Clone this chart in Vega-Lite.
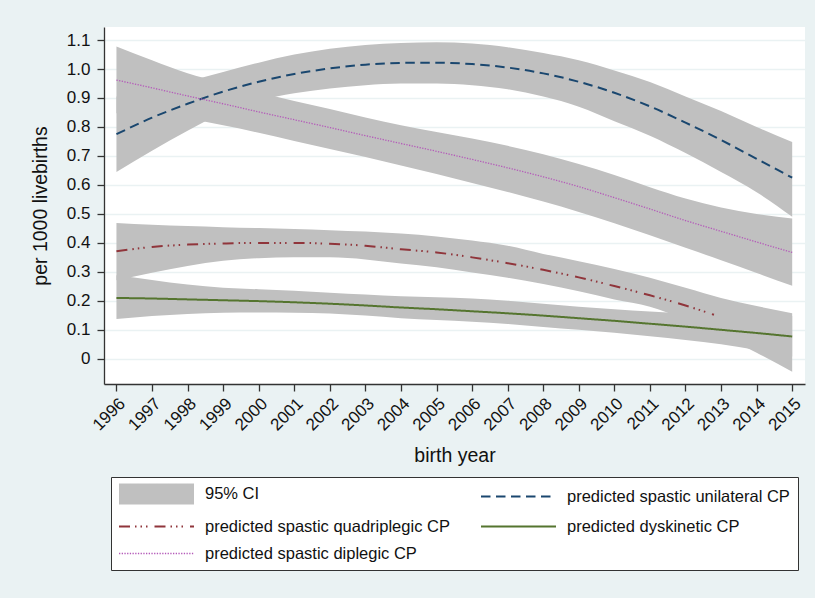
{
  "$schema": "https://vega.github.io/schema/vega-lite/v6.json",
  "width": 701,
  "height": 357,
  "autosize": {"type": "none"},
  "padding": {"left": 104, "top": 27, "right": 10, "bottom": 214},
  "background": "#eaf2f3",
  "data": {"values": [
    {"year": 1996, "series": "predicted spastic unilateral CP", "est": 0.775, "lo": 0.645, "hi": 0.905},
    {"year": 1997, "series": "predicted spastic unilateral CP", "est": 0.832, "lo": 0.718, "hi": 0.93},
    {"year": 1998, "series": "predicted spastic unilateral CP", "est": 0.88, "lo": 0.787, "hi": 0.957},
    {"year": 1999, "series": "predicted spastic unilateral CP", "est": 0.922, "lo": 0.848, "hi": 0.99},
    {"year": 2000, "series": "predicted spastic unilateral CP", "est": 0.956, "lo": 0.89, "hi": 1.022},
    {"year": 2001, "series": "predicted spastic unilateral CP", "est": 0.983, "lo": 0.916, "hi": 1.05},
    {"year": 2002, "series": "predicted spastic unilateral CP", "est": 1.002, "lo": 0.933, "hi": 1.07},
    {"year": 2003, "series": "predicted spastic unilateral CP", "est": 1.015, "lo": 0.944, "hi": 1.083},
    {"year": 2004, "series": "predicted spastic unilateral CP", "est": 1.021, "lo": 0.95, "hi": 1.09},
    {"year": 2005, "series": "predicted spastic unilateral CP", "est": 1.022, "lo": 0.95, "hi": 1.092},
    {"year": 2006, "series": "predicted spastic unilateral CP", "est": 1.017, "lo": 0.944, "hi": 1.088},
    {"year": 2007, "series": "predicted spastic unilateral CP", "est": 1.005, "lo": 0.93, "hi": 1.075},
    {"year": 2008, "series": "predicted spastic unilateral CP", "est": 0.985, "lo": 0.905, "hi": 1.055},
    {"year": 2009, "series": "predicted spastic unilateral CP", "est": 0.956, "lo": 0.87, "hi": 1.03},
    {"year": 2010, "series": "predicted spastic unilateral CP", "est": 0.918, "lo": 0.82, "hi": 0.995},
    {"year": 2011, "series": "predicted spastic unilateral CP", "est": 0.871, "lo": 0.77, "hi": 0.955},
    {"year": 2012, "series": "predicted spastic unilateral CP", "est": 0.815, "lo": 0.71, "hi": 0.905},
    {"year": 2013, "series": "predicted spastic unilateral CP", "est": 0.755, "lo": 0.645, "hi": 0.855},
    {"year": 2014, "series": "predicted spastic unilateral CP", "est": 0.69, "lo": 0.575, "hi": 0.8},
    {"year": 2015, "series": "predicted spastic unilateral CP", "est": 0.625, "lo": 0.49, "hi": 0.748},

    {"year": 1996, "series": "predicted spastic diplegic CP", "est": 0.962, "lo": 0.847, "hi": 1.078},
    {"year": 1997, "series": "predicted spastic diplegic CP", "est": 0.935, "lo": 0.842, "hi": 1.03},
    {"year": 1998, "series": "predicted spastic diplegic CP", "est": 0.907, "lo": 0.828, "hi": 0.985},
    {"year": 1999, "series": "predicted spastic diplegic CP", "est": 0.88, "lo": 0.806, "hi": 0.952},
    {"year": 2000, "series": "predicted spastic diplegic CP", "est": 0.852, "lo": 0.78, "hi": 0.92},
    {"year": 2001, "series": "predicted spastic diplegic CP", "est": 0.825, "lo": 0.752, "hi": 0.89},
    {"year": 2002, "series": "predicted spastic diplegic CP", "est": 0.798, "lo": 0.724, "hi": 0.862},
    {"year": 2003, "series": "predicted spastic diplegic CP", "est": 0.77, "lo": 0.696, "hi": 0.833},
    {"year": 2004, "series": "predicted spastic diplegic CP", "est": 0.743, "lo": 0.667, "hi": 0.806},
    {"year": 2005, "series": "predicted spastic diplegic CP", "est": 0.716, "lo": 0.638, "hi": 0.783},
    {"year": 2006, "series": "predicted spastic diplegic CP", "est": 0.688, "lo": 0.607, "hi": 0.76},
    {"year": 2007, "series": "predicted spastic diplegic CP", "est": 0.659, "lo": 0.576, "hi": 0.735},
    {"year": 2008, "series": "predicted spastic diplegic CP", "est": 0.628, "lo": 0.543, "hi": 0.706},
    {"year": 2009, "series": "predicted spastic diplegic CP", "est": 0.594, "lo": 0.507, "hi": 0.672},
    {"year": 2010, "series": "predicted spastic diplegic CP", "est": 0.556, "lo": 0.468, "hi": 0.634},
    {"year": 2011, "series": "predicted spastic diplegic CP", "est": 0.517, "lo": 0.426, "hi": 0.592},
    {"year": 2012, "series": "predicted spastic diplegic CP", "est": 0.477, "lo": 0.383, "hi": 0.553},
    {"year": 2013, "series": "predicted spastic diplegic CP", "est": 0.44, "lo": 0.34, "hi": 0.522},
    {"year": 2014, "series": "predicted spastic diplegic CP", "est": 0.403, "lo": 0.296, "hi": 0.5},
    {"year": 2015, "series": "predicted spastic diplegic CP", "est": 0.367, "lo": 0.252, "hi": 0.484},

    {"year": 1996, "series": "predicted spastic quadriplegic CP", "est": 0.371, "lo": 0.271, "hi": 0.469},
    {"year": 1997, "series": "predicted spastic quadriplegic CP", "est": 0.386, "lo": 0.297, "hi": 0.463},
    {"year": 1998, "series": "predicted spastic quadriplegic CP", "est": 0.394, "lo": 0.32, "hi": 0.458},
    {"year": 1999, "series": "predicted spastic quadriplegic CP", "est": 0.398, "lo": 0.338, "hi": 0.454},
    {"year": 2000, "series": "predicted spastic quadriplegic CP", "est": 0.4, "lo": 0.347, "hi": 0.451},
    {"year": 2001, "series": "predicted spastic quadriplegic CP", "est": 0.4, "lo": 0.35, "hi": 0.448},
    {"year": 2002, "series": "predicted spastic quadriplegic CP", "est": 0.397, "lo": 0.35, "hi": 0.444},
    {"year": 2003, "series": "predicted spastic quadriplegic CP", "est": 0.39, "lo": 0.343, "hi": 0.439},
    {"year": 2004, "series": "predicted spastic quadriplegic CP", "est": 0.378, "lo": 0.329, "hi": 0.432},
    {"year": 2005, "series": "predicted spastic quadriplegic CP", "est": 0.367, "lo": 0.316, "hi": 0.422},
    {"year": 2006, "series": "predicted spastic quadriplegic CP", "est": 0.35, "lo": 0.298, "hi": 0.408},
    {"year": 2007, "series": "predicted spastic quadriplegic CP", "est": 0.33, "lo": 0.28, "hi": 0.39},
    {"year": 2008, "series": "predicted spastic quadriplegic CP", "est": 0.307, "lo": 0.258, "hi": 0.362},
    {"year": 2009, "series": "predicted spastic quadriplegic CP", "est": 0.281, "lo": 0.233, "hi": 0.337},
    {"year": 2010, "series": "predicted spastic quadriplegic CP", "est": 0.251, "lo": 0.205, "hi": 0.31},
    {"year": 2011, "series": "predicted spastic quadriplegic CP", "est": 0.219, "lo": 0.18, "hi": 0.28},
    {"year": 2012, "series": "predicted spastic quadriplegic CP", "est": 0.184, "lo": 0.135, "hi": 0.245},
    {"year": 2012.8, "series": "predicted spastic quadriplegic CP", "est": 0.152, "lo": null, "hi": null},
    {"year": 2013, "series": "predicted spastic quadriplegic CP", "est": null, "lo": 0.08, "hi": 0.21},
    {"year": 2014, "series": "predicted spastic quadriplegic CP", "est": null, "lo": 0.021, "hi": 0.182},
    {"year": 2015, "series": "predicted spastic quadriplegic CP", "est": null, "lo": -0.045, "hi": 0.157},

    {"year": 1996, "series": "predicted dyskinetic CP", "est": 0.21, "lo": 0.137, "hi": 0.288},
    {"year": 1997, "series": "predicted dyskinetic CP", "est": 0.208, "lo": 0.148, "hi": 0.272},
    {"year": 1998, "series": "predicted dyskinetic CP", "est": 0.205, "lo": 0.155, "hi": 0.256},
    {"year": 1999, "series": "predicted dyskinetic CP", "est": 0.202, "lo": 0.159, "hi": 0.245},
    {"year": 2000, "series": "predicted dyskinetic CP", "est": 0.199, "lo": 0.16, "hi": 0.24},
    {"year": 2001, "series": "predicted dyskinetic CP", "est": 0.195, "lo": 0.159, "hi": 0.235},
    {"year": 2002, "series": "predicted dyskinetic CP", "est": 0.19, "lo": 0.156, "hi": 0.228},
    {"year": 2003, "series": "predicted dyskinetic CP", "est": 0.184, "lo": 0.149, "hi": 0.222},
    {"year": 2004, "series": "predicted dyskinetic CP", "est": 0.177, "lo": 0.14, "hi": 0.216},
    {"year": 2005, "series": "predicted dyskinetic CP", "est": 0.171, "lo": 0.134, "hi": 0.212},
    {"year": 2006, "series": "predicted dyskinetic CP", "est": 0.164, "lo": 0.128, "hi": 0.208},
    {"year": 2007, "series": "predicted dyskinetic CP", "est": 0.157, "lo": 0.12, "hi": 0.2},
    {"year": 2008, "series": "predicted dyskinetic CP", "est": 0.149, "lo": 0.11, "hi": 0.19},
    {"year": 2009, "series": "predicted dyskinetic CP", "est": 0.14, "lo": 0.1, "hi": 0.18},
    {"year": 2010, "series": "predicted dyskinetic CP", "est": 0.131, "lo": 0.09, "hi": 0.171},
    {"year": 2011, "series": "predicted dyskinetic CP", "est": 0.121, "lo": 0.078, "hi": 0.163},
    {"year": 2012, "series": "predicted dyskinetic CP", "est": 0.111, "lo": 0.065, "hi": 0.156},
    {"year": 2013, "series": "predicted dyskinetic CP", "est": 0.1, "lo": 0.05, "hi": 0.151},
    {"year": 2014, "series": "predicted dyskinetic CP", "est": 0.089, "lo": 0.03, "hi": 0.148},
    {"year": 2015, "series": "predicted dyskinetic CP", "est": 0.077, "lo": 0.008, "hi": 0.148}
  ]},
  "encoding": {
    "x": {
      "field": "year", "type": "quantitative",
      "scale": {"domain": [1995.65, 2015.36], "nice": false, "zero": false},
      "axis": {
        "values": [1996,1997,1998,1999,2000,2001,2002,2003,2004,2005,2006,2007,2008,2009,2010,2011,2012,2013,2014,2015],
        "format": "d", "labelAngle": -45, "grid": false, "labelOverlap": false,
        "title": "birth year", "labelPadding": 4, "titlePadding": 13
      }
    }
  },
  "layer": [
    {
      "mark": {"type": "area", "interpolate": "monotone", "color": "#c0c0c0", "opacity": 1, "invalid": "filter"},
      "encoding": {
        "y": {
          "field": "lo", "type": "quantitative",
          "scale": {"domain": [-0.087, 1.145], "nice": false, "zero": false},
          "axis": {
            "values": [0,0.1,0.2,0.3,0.4,0.5,0.6,0.7,0.8,0.9,1.0,1.1],
            "labelExpr": "datum.value == 0 ? '0' : format(datum.value, '.1f')",
            "labelOverlap": false,
            "title": "per 1000 livebirths", "titlePadding": 16, "labelPadding": 7
          }
        },
        "y2": {"field": "hi"},
        "detail": {"field": "series", "type": "nominal"}
      }
    },
    {
      "mark": {"type": "line", "interpolate": "monotone", "invalid": "filter"},
      "encoding": {
        "y": {
          "field": "est", "type": "quantitative",
          "axis": {
            "values": [0,0.1,0.2,0.3,0.4,0.5,0.6,0.7,0.8,0.9,1.0,1.1],
            "labelExpr": "datum.value == 0 ? '0' : format(datum.value, '.1f')",
            "labelOverlap": false,
            "title": "per 1000 livebirths", "titlePadding": 16, "labelPadding": 7
          }
        },
        "color": {
          "field": "series", "type": "nominal",
          "scale": {
            "domain": ["95% CI", "predicted spastic quadriplegic CP", "predicted spastic diplegic CP", "predicted spastic unilateral CP", "predicted dyskinetic CP"],
            "range": ["#c0c0c0", "#90353b", "#b45ab9", "#1a476f", "#55752f"]
          },
          "legend": {
            "title": null, "orient": "none", "legendX": 7, "legendY": 450, "columns": 2,
            "columnPadding": 27, "rowPadding": 10, "padding": 8,
            "strokeColor": "#333", "fillColor": "white",
            "symbolType": "M-5,0H5", "symbolSize": 225, "symbolOffset": 29, "symbolStrokeWidth": 2,
            "labelOffset": 40, "labelFontSize": 16.5, "labelLimit": 400, "labelColor": "#111",
            "labelFont": "Liberation Sans",
            "encode": {
              "symbols": {"update": {
                "shape": {"signal": "datum.value == '95% CI' ? 'M-4.87,-1.27H4.87V1.27H-4.87Z' : 'M-5,0H5'"},
                "fill": {"signal": "datum.value == '95% CI' ? '#c0c0c0' : 'transparent'"}
              }}
            }
          }
        },
        "strokeDash": {
          "field": "series", "type": "nominal",
          "scale": {
            "domain": ["95% CI", "predicted spastic quadriplegic CP", "predicted spastic diplegic CP", "predicted spastic unilateral CP", "predicted dyskinetic CP"],
            "range": [[1, 0], [11, 5, 1.5, 4, 1.5, 4, 1.5, 7], [1.3, 1.4], [9.5, 5.5], [1, 0]]
          },
          "legend": {
            "title": null, "orient": "none", "legendX": 7, "legendY": 450, "columns": 2,
            "columnPadding": 27, "rowPadding": 10, "padding": 8,
            "strokeColor": "#333", "fillColor": "white",
            "symbolType": "M-5,0H5", "symbolSize": 225, "symbolOffset": 29, "symbolStrokeWidth": 2,
            "labelOffset": 40, "labelFontSize": 16.5, "labelLimit": 400, "labelColor": "#111",
            "labelFont": "Liberation Sans",
            "encode": {
              "symbols": {"update": {
                "shape": {"signal": "datum.value == '95% CI' ? 'M-4.87,-1.27H4.87V1.27H-4.87Z' : 'M-5,0H5'"},
                "fill": {"signal": "datum.value == '95% CI' ? '#c0c0c0' : 'transparent'"}
              }}
            }
          }
        },
        "strokeWidth": {
          "field": "series", "type": "nominal",
          "scale": {
            "type": "ordinal",
            "domain": ["95% CI", "predicted spastic quadriplegic CP", "predicted spastic diplegic CP", "predicted spastic unilateral CP", "predicted dyskinetic CP"],
            "range": [2, 2, 1.3, 2, 2]
          },
          "legend": null
        }
      }
    }
  ],
  "config": {
    "font": "Liberation Sans",
    "view": {"stroke": null, "fill": "white"},
    "axis": {
      "labelFont": "Liberation Sans", "labelFontSize": 17, "labelColor": "#111",
      "titleFont": "Liberation Sans", "titleFontSize": 19.5, "titleFontWeight": "normal", "titleColor": "#111",
      "domainColor": "#333", "domainWidth": 1.3, "tickColor": "#333", "tickWidth": 1.3, "tickSize": 7,
      "gridColor": "#eaf2f3", "gridWidth": 1.5
    }
  }
}
